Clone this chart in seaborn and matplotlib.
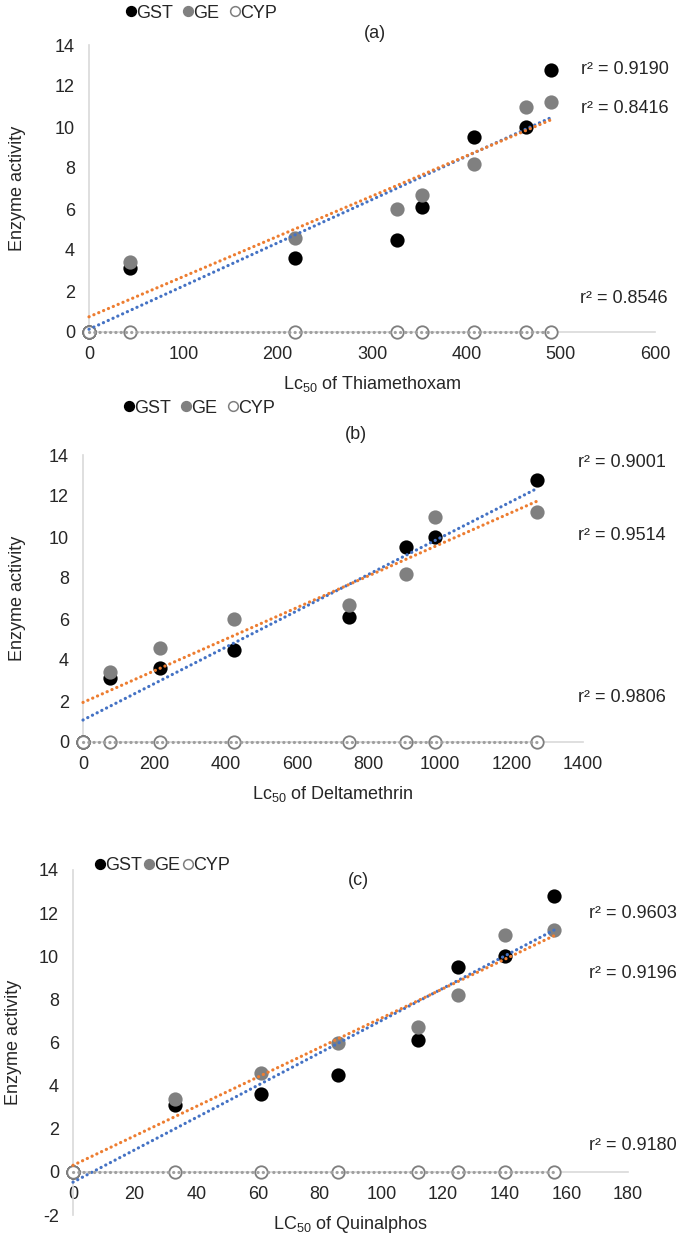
"""
plot.py
-------
Enzyme activity (GST, GE, CYP) against LC50 of three insecticides,
three stacked scatter panels with dotted linear trendlines.
"""

import numpy as np
import pandas as pd
import matplotlib
matplotlib.use("Agg")
import matplotlib.pyplot as plt
from matplotlib.lines import Line2D
import seaborn as sns

# ---------------------------------------------------------------------------
# Data
# ---------------------------------------------------------------------------

GST = [0, 3.1, 3.6, 4.5, 6.1, 9.5, 10.0, 12.8]
GE = [0, 3.4, 4.6, 6.0, 6.7, 8.2, 11.0, 11.2]
CYP = [0, 0, 0, 0, 0, 0, 0, 0]

LC50_THIAMETHOXAM = [0, 43, 218, 327, 353, 408, 463, 490]
LC50_DELTAMETHRIN = [0, 75, 215, 422, 745, 905, 985, 1270]
LC50_QUINALPHOS = [0, 33, 61, 86, 112, 125, 140, 156]

R2_A = ["0.9190", "0.8416", "0.8546"]
R2_B = ["0.9001", "0.9514", "0.9806"]
R2_C = ["0.9603", "0.9196", "0.9180"]

SERIES = ["GST", "GE", "CYP"]
FILL = {"GST": "black", "GE": "#808080", "CYP": "white"}
EDGE = {"GST": "black", "GE": "#808080", "CYP": "#7f7f7f"}
TREND = {"GST": "#4472C4", "GE": "#ED7D31", "CYP": "#a0a0a0"}

sns.set_style("white")
plt.rcParams["font.family"] = ["Liberation Sans Narrow", "Liberation Sans", "DejaVu Sans"]
plt.rcParams["mathtext.default"] = "regular"
plt.rcParams["axes.unicode_minus"] = False

FS = 13
AXIS_GRAY = "#d9d9d9"
W, H = 680, 1243


def draw_panel(ax, x, xmax, xstep, ymin, xlabel, tag, tag_xy, r2, r2_xy,
               leg_anchor, colspacing, ylabel_px):
    df = pd.DataFrame({"x": x, "GST": GST, "GE": GE, "CYP": CYP})

    for name in SERIES:
        sns.regplot(data=df, x="x", y=name, ax=ax, scatter=False, ci=None,
                    truncate=True,
                    line_kws=dict(color=TREND[name], lw=2.3,
                                  ls=(0, (0.05, 1.6)), dash_capstyle="round",
                                  zorder=4, clip_on=False))
        sns.scatterplot(data=df, x="x", y=name, ax=ax, s=80, color=FILL[name],
                        edgecolor=EDGE[name], linewidth=1.3, zorder=3,
                        clip_on=False, legend=False)

    ax.set_xlim(0, xmax)
    ax.set_ylim(ymin, 14)
    ax.set_xticks(np.arange(0, xmax + 1, xstep))
    ax.set_yticks(np.arange(ymin, 15, 2))
    ax.set_xlabel(xlabel, fontsize=FS, labelpad=8)
    ax.set_ylabel("Enzyme activity", fontsize=FS)
    # label anchor given in figure pixels (right side of the rotated text)
    pos = ax.get_position()
    ax.yaxis.set_label_coords((ylabel_px / W - pos.x0) / pos.width, 0.5)

    for side in ["top", "right"]:
        ax.spines[side].set_visible(False)
    for side in ["left", "bottom"]:
        ax.spines[side].set_color(AXIS_GRAY)
        ax.spines[side].set_linewidth(1.2)
    if ymin < 0:
        ax.spines["bottom"].set_position(("data", 0))
    ax.tick_params(axis="both", labelsize=FS, color=AXIS_GRAY, length=4,
                   width=1, direction="out", pad=6)

    ax.text(tag_xy[0], tag_xy[1], tag, transform=ax.transAxes, fontsize=FS,
            ha="center", va="center")
    for val, (tx, ty) in zip(r2, r2_xy):
        ax.text(tx, ty, f"r² = {val}", transform=ax.transAxes, fontsize=FS,
                ha="left", va="center")

    handles = [Line2D([], [], ls="none", marker="o", markersize=7,
                      markerfacecolor=FILL[n], markeredgecolor=EDGE[n],
                      markeredgewidth=1.1) for n in SERIES]
    ax.legend(handles, SERIES, ncol=3, frameon=False, fontsize=FS,
              loc="center left", bbox_to_anchor=leg_anchor,
              bbox_transform=ax.figure.transFigure, handlelength=0.5,
              handletextpad=0.05, columnspacing=colspacing, borderpad=0)


fig = plt.figure(figsize=(W / 100, H / 100), dpi=100)


def px_axes(left, right, top, bottom):
    return fig.add_axes([left / W, 1 - bottom / H, (right - left) / W, (bottom - top) / H])


ax_a = px_axes(89, 655, 45, 332)
ax_b = px_axes(83, 583, 455, 742)
ax_c = px_axes(73, 628, 870, 1215)

draw_panel(ax_a, LC50_THIAMETHOXAM, 600, 100, 0,
           "Lc$_{50}$ of Thiamethoxam", "(a)", (0.505, 1.04),
           R2_A, [(0.87, 0.915), (0.87, 0.78), (0.868, 0.115)],
           (117 / W, 1 - 13 / H), 0.6, 26)

draw_panel(ax_b, LC50_DELTAMETHRIN, 1400, 200, 0,
           "Lc$_{50}$ of Deltamethrin", "(b)", (0.545, 1.07),
           R2_B, [(0.99, 0.975), (0.99, 0.72), (0.99, 0.155)],
           (115 / W, 1 - 408 / H), 0.6, 26)

draw_panel(ax_c, LC50_QUINALPHOS, 180, 20, -2,
           "LC$_{50}$ of Quinalphos", "(c)", (0.515, 0.97),
           R2_C, [(0.93, 0.875), (0.93, 0.7), (0.93, 0.2)],
           (86 / W, 1 - 866 / H), 0.15, 22)

fig.savefig("out.png", dpi=100)
plt.close(fig)
